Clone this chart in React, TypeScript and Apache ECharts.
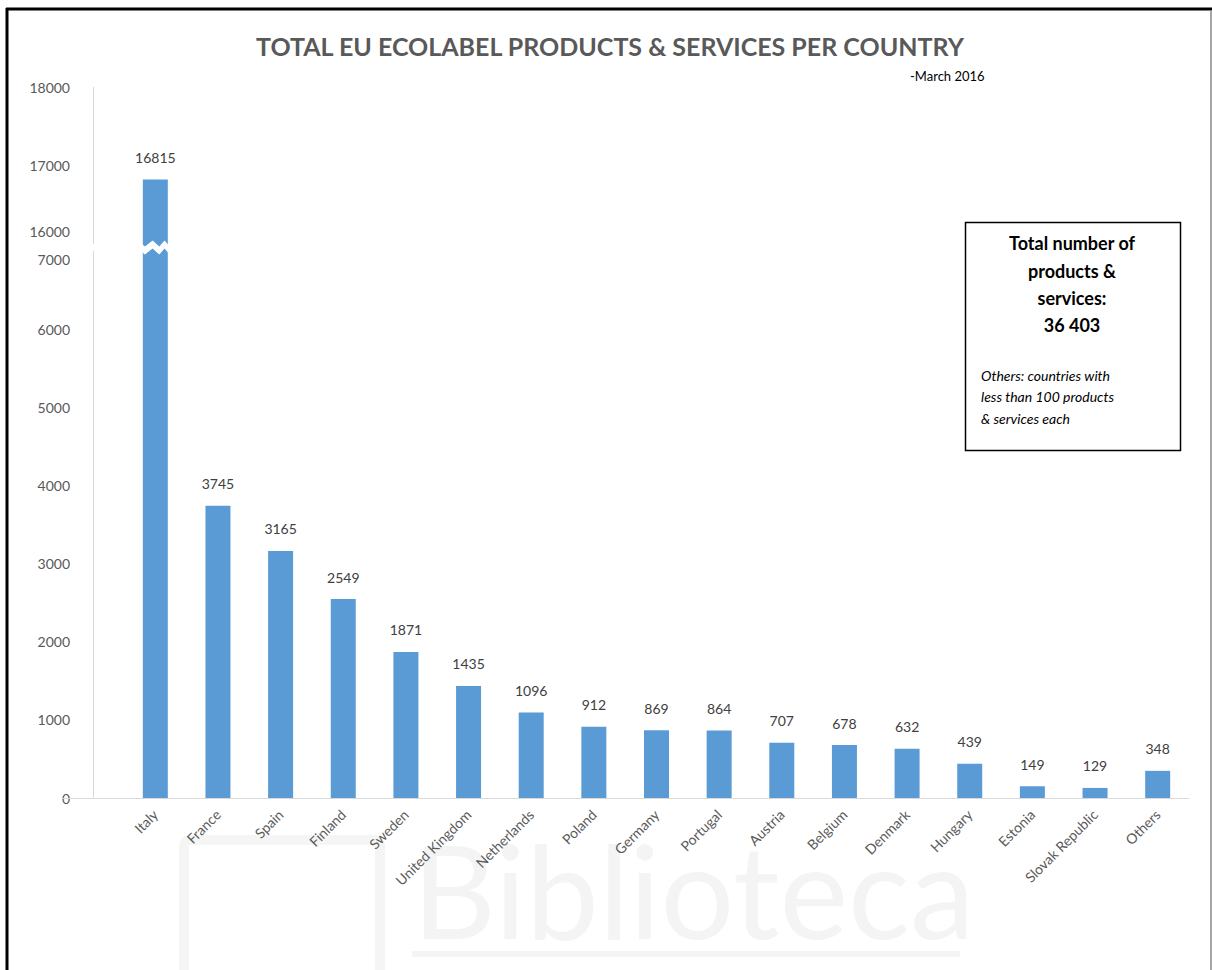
import React, { useEffect, useRef } from "react";
import * as echarts from "echarts";

const countries = [
  "Italy", "France", "Spain", "Finland", "Sweden", "United Kingdom", "Netherlands",
  "Poland", "Germany", "Portugal", "Austria", "Belgium", "Denmark", "Hungary",
  "Estonia", "Slovak Republic", "Others",
];
const products = [16815, 3745, 3165, 2549, 1871, 1435, 1096, 912, 869, 864, 707, 678, 632, 439, 149, 129, 348];
const axisBreak = { start: 7000, end: 16000 };
const titleText = "TOTAL EU ECOLABEL PRODUCTS & SERVICES PER COUNTRY";
const subtitleText = "-March 2016";
const boxBold = ["Total number of", "products &", "services:", "36 403"];
const boxItalic = ["Others: countries with", "less than 100 products", "& services each"];

const FONT = "Lato, 'Open Sans', sans-serif";

export default function App() {
  const ref = useRef<HTMLDivElement>(null);
  useEffect(() => {
    if (!ref.current) return;
    const chart = echarts.init(ref.current, null, { renderer: "svg" });
    const graphics: any[] = [
      // watermark
      { type: "text", z: 0, left: 412, top: 824, style: { text: "Biblioteca", font: "130px Lato, sans-serif", fill: "#f4f4f4" } },
      { type: "rect", z: 0, shape: { x: 184, y: 840, width: 196, height: 140, r: 6 }, style: { fill: "none", stroke: "#f5f5f5", lineWidth: 10 } },
      { type: "line", z: 0, shape: { x1: 412, y1: 954, x2: 960, y2: 954 }, style: { stroke: "#f4f4f4", lineWidth: 6 } },
      // frame
      { type: "line", z: 200, shape: { x1: 6, y1: 9, x2: 1212, y2: 9 }, style: { stroke: "#000", lineWidth: 3 } },
      { type: "line", z: 200, shape: { x1: 7, y1: 8, x2: 7, y2: 970 }, style: { stroke: "#000", lineWidth: 3 } },
      { type: "line", z: 200, shape: { x1: 1211, y1: 10, x2: 1211, y2: 970 }, style: { stroke: "#888", lineWidth: 1.5 } },
      // extension of x axis line to the left
      { type: "line", z: 10, shape: { x1: 62, y1: 798.5, x2: 124, y2: 798.5 }, style: { stroke: "#d9d9d9", lineWidth: 1 } },
      // title
      { type: "text", z: 200, x: 610, y: 46, style: { text: titleText, font: `bold 25px ${FONT}`, fill: "#595959", textAlign: "center", textVerticalAlign: "middle" } },
      { type: "text", z: 200, x: 910, y: 76, style: { text: subtitleText, font: `13px ${FONT}`, fill: "#000", textAlign: "left", textVerticalAlign: "middle" } },
      // info box
      { type: "rect", z: 200, shape: { x: 965.5, y: 222.5, width: 215, height: 228 }, style: { fill: "#fff", stroke: "#000", lineWidth: 1.5 } },
    ];
    const boldY = [243, 271, 298, 325];
    boxBold.forEach((t, i) => {
      graphics.push({ type: "text", z: 210, x: 1072, y: boldY[i], style: { text: t, font: `bold 18px ${FONT}`, fill: "#000", textAlign: "center", textVerticalAlign: "middle" } });
    });
    const italicY = [375, 396, 418];
    boxItalic.forEach((t, i) => {
      graphics.push({ type: "text", z: 210, x: 981, y: italicY[i], style: { text: t, font: `italic 14px ${FONT}`, fill: "#000", textAlign: "left", textVerticalAlign: "middle" } });
    });

    chart.setOption({
      animation: false,
      backgroundColor: "#fff",
      grid: { left: 124, right: 23, top: 87, bottom: 172, containLabel: false },
      xAxis: {
        type: "category",
        data: countries,
        axisLine: { lineStyle: { color: "#d9d9d9" } },
        axisTick: { show: false },
        axisLabel: { rotate: 45, margin: 14, color: "#595959", fontSize: 14, fontFamily: FONT, interval: 0 },
      },
      yAxis: {
        type: "value",
        min: 0,
        max: 18000,
        interval: 1000,
        offset: 31,
        breaks: [{ start: axisBreak.start, end: axisBreak.end, gap: "1.2%" }],
        breakArea: {
          show: true,
          expandOnClick: false,
          zigzagAmplitude: 3,
          zigzagMinSpan: 4,
          zigzagMaxSpan: 8,
          zigzagZ: 5,
          itemStyle: { color: "#fff", borderColor: "#fff", borderWidth: 0, opacity: 1 },
        },
        breakLabelLayout: { moveOverlap: "auto" },
        axisLine: { show: true, lineStyle: { color: "#d9d9d9" } },
        axisTick: { show: false },
        splitLine: { show: false },
        axisLabel: {
          color: "#595959", fontSize: 14, lineHeight: 14, fontFamily: FONT, margin: 23,
          formatter: (v: number) =>
            v === axisBreak.end ? `{up|${v}}` : v === axisBreak.start ? `{down|${v}}` : String(v),
          rich: {
            up: { color: "#595959", fontSize: 14, lineHeight: 14, fontFamily: FONT, padding: [0, 0, 10, 0] },
            down: { color: "#595959", fontSize: 14, lineHeight: 14, fontFamily: FONT, padding: [4, 0, 0, 0] },
          },
        },
      },
      series: [
        {
          type: "bar",
          data: products,
          barWidth: 25,
          itemStyle: { color: "#5B9BD5" },
          label: { show: true, position: "top", distance: 15, color: "#404040", fontSize: 14, fontFamily: FONT },
        },
      ],
      graphic: graphics,
    });
    return () => chart.dispose();
  }, []);
  return <div ref={ref} style={{ position: "absolute", left: 0, top: 0, width: 1212, height: 970 }} />;
}
